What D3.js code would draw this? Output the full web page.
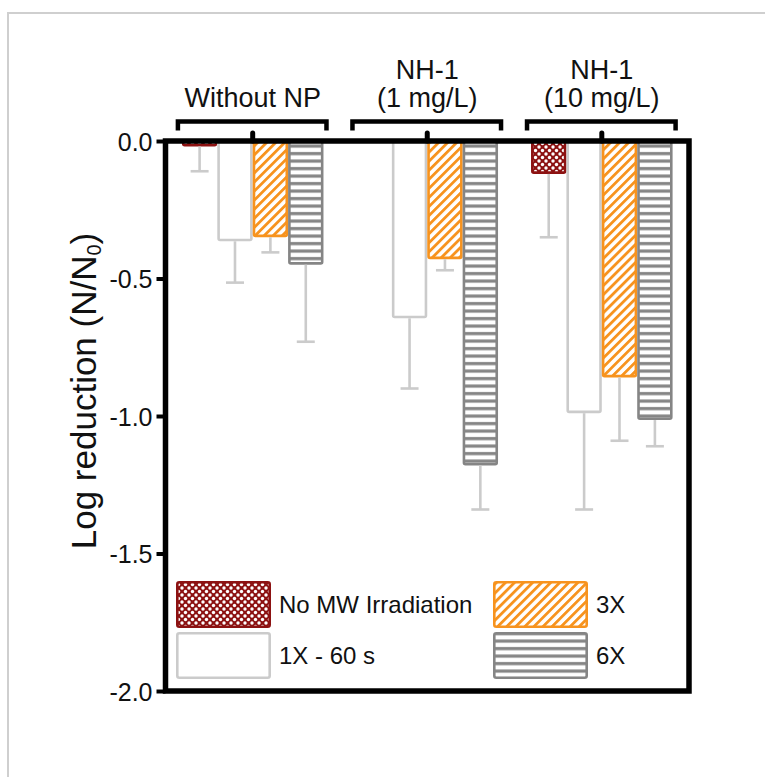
<!DOCTYPE html>
<html>
<head>
<meta charset="utf-8">
<script src="https://cdn.jsdelivr.net/npm/d3@7"></script>
<style>
    body { margin: 0; background: #fff; }
    svg { display: block; font-family: "Liberation Sans", Arial, Helvetica, sans-serif; }
</style>
</head>
<body>
<svg id="bar-chart"></svg>
<script>
/*--------------------------------------------------------------------------------
----- GROUPED BAR CHART (log reduction per nanoparticle condition)
--------------------------------------------------------------------------------*/

// Groups (top labels, one array per text line) and the series inside each group
const groups = ["without", "nh1_1", "nh1_10"];
const group_labels = [["Without NP"], ["NH-1", "(1 mg/L)"], ["NH-1", "(10 mg/L)"]];
const series = ["No MW Irradiation", "1X - 60 s", "3X", "6X"];

// Mean log reduction per group, in series order
const values_without = [-0.015, -0.36, -0.345, -0.445];
const values_nh1_1 = [0, -0.64, -0.425, -1.175];
const values_nh1_10 = [-0.115, -0.985, -0.855, -1.01];

// Error bar length (downward) per group, in series order
const errors_without = [0.095, 0.155, 0.06, 0.285];
const errors_nh1_1 = [0, 0.26, 0.045, 0.165];
const errors_nh1_10 = [0.235, 0.355, 0.235, 0.10];

// Y-axis ticks
const y_ticks = [0, -0.5, -1.0, -1.5, -2.0];

// Build a flat table out of the arrays above
const group_values = [values_without, values_nh1_1, values_nh1_10];
const group_errors = [errors_without, errors_nh1_1, errors_nh1_10];
const bar_data = [];
groups.forEach((g, gi) => {
    series.forEach((s, si) => {
        bar_data.push({ group: g, serie: s, value: group_values[gi][si], error: group_errors[gi][si] });
    });
});

// Dimensions of the page and the plot frame
const width = 765, height = 777;
const frame = { left: 165.5, right: 689, top: 141, bottom: 691 };

const svg = d3.select("#bar-chart")
    .attr("width", width)
    .attr("height", height);

// Light grey outer border (only top and left edges are visible)
svg.append("rect")
    .attr("x", 8).attr("y", 13)
    .attr("width", 900).attr("height", 900)
    .attr("fill", "none")
    .attr("stroke", "#cfcfcf")
    .attr("stroke-width", 2);

// Colors per series
const dark_red = "#8c1212", orange = "#f7931e", light_grey = "#cbcbcb", mid_grey = "#858585";

// Patterns for the bar fills
const defs = svg.append("defs");

const p_cross = defs.append("pattern")
    .attr("id", "pat-nomw")
    .attr("patternUnits", "userSpaceOnUse")
    .attr("width", 7).attr("height", 7);
p_cross.append("rect").attr("width", 7).attr("height", 7).attr("fill", dark_red);
[[0, 0], [7, 0], [0, 7], [7, 7], [3.5, 3.5]].forEach(p => {
    p_cross.append("circle").attr("cx", p[0]).attr("cy", p[1]).attr("r", 1.7).attr("fill", "#fff");
});

const p_diag = defs.append("pattern")
    .attr("id", "pat-3x")
    .attr("patternUnits", "userSpaceOnUse")
    .attr("width", 6.4).attr("height", 6.4)
    .attr("patternTransform", "rotate(45)");
p_diag.append("rect").attr("width", 6.4).attr("height", 6.4).attr("fill", "#fff");
p_diag.append("rect").attr("width", 2.8).attr("height", 6.4).attr("fill", orange);

const p_horiz = defs.append("pattern")
    .attr("id", "pat-6x")
    .attr("patternUnits", "userSpaceOnUse")
    .attr("width", 8).attr("height", 7.5);
p_horiz.append("rect").attr("width", 8).attr("height", 7.5).attr("fill", "#fff");
p_horiz.append("rect").attr("y", 2).attr("width", 8).attr("height", 3.2).attr("fill", mid_grey);

const fill_scale = d3.scaleOrdinal()
    .domain(series)
    .range(["url(#pat-nomw)", "#fff", "url(#pat-3x)", "url(#pat-6x)"]);
const stroke_scale = d3.scaleOrdinal()
    .domain(series)
    .range([dark_red, light_grey, orange, mid_grey]);

// Scales
const x0_scale = d3.scaleBand()
    .domain(groups)
    .range([frame.left, frame.right])
    .paddingInner(0.189)
    .paddingOuter(0.094);
const x1_scale = d3.scaleBand()
    .domain(series)
    .range([0, x0_scale.bandwidth()]);
const y_scale = d3.scaleLinear()
    .domain([-2, 0])
    .range([frame.bottom, frame.top]);

// Bars (a zero value draws nothing)
svg.append("g")
    .selectAll("rect")
    .data(bar_data.filter(d => d.value !== 0))
    .enter()
    .append("rect")
    .attr("x", d => x0_scale(d.group) + x1_scale(d.serie) + 1.3)
    .attr("y", y_scale(0))
    .attr("width", x1_scale.bandwidth() - 2.6)
    .attr("height", d => y_scale(d.value) - y_scale(0))
    .attr("rx", 1.5)
    .attr("fill", d => fill_scale(d.serie))
    .attr("stroke", d => stroke_scale(d.serie))
    .attr("stroke-width", 2.6);

// Error bars, drawn downward from the end of each bar
const err_g = svg.append("g")
    .attr("stroke", light_grey)
    .attr("stroke-width", 2.6);
const err_data = bar_data.filter(d => d.error > 0);
const bar_mid = d => x0_scale(d.group) + x1_scale(d.serie) + x1_scale.bandwidth() / 2;
err_g.selectAll("line.stem")
    .data(err_data)
    .enter()
    .append("line")
    .attr("class", "stem")
    .attr("x1", bar_mid).attr("x2", bar_mid)
    .attr("y1", d => y_scale(d.value) + 1.3)
    .attr("y2", d => y_scale(d.value - d.error));
err_g.selectAll("line.cap")
    .data(err_data)
    .enter()
    .append("line")
    .attr("class", "cap")
    .attr("x1", d => bar_mid(d) - 9).attr("x2", d => bar_mid(d) + 9)
    .attr("y1", d => y_scale(d.value - d.error))
    .attr("y2", d => y_scale(d.value - d.error));

// Y-axis with hyphen minus labels
const y_axis = svg.append("g")
    .attr("transform", `translate(${frame.left},0)`)
    .call(d3.axisLeft(y_scale).tickValues(y_ticks).tickSize(9).tickPadding(4).tickFormat(d => d.toFixed(1)));
y_axis.select(".domain").remove();
y_axis.selectAll(".tick line").attr("stroke", "#000").attr("stroke-width", 4);
y_axis.selectAll(".tick text")
    .attr("fill", "#111")
    .attr("font-size", 25)
    .attr("font-family", "Liberation Sans, Arial, sans-serif")
    .attr("dy", "0.36em");

// Top axis: one upward tick per group
const x_axis = svg.append("g")
    .attr("transform", `translate(0,${frame.top})`)
    .call(d3.axisTop(x0_scale).tickSize(8).tickFormat(""));
x_axis.select(".domain").remove();
x_axis.selectAll(".tick line")
    .attr("stroke", "#000")
    .attr("stroke-width", 5)
    .attr("stroke-linecap", "round");

// Plot frame
svg.append("rect")
    .attr("x", frame.left).attr("y", frame.top)
    .attr("width", frame.right - frame.left)
    .attr("height", frame.bottom - frame.top)
    .attr("fill", "none")
    .attr("stroke", "#000")
    .attr("stroke-width", 5.5);

// Group brackets and labels above the plot
const bracket_y = 121.5, bracket_drop = 9;
groups.forEach((g, gi) => {
    const xa = x0_scale(g) - 4, xb = x0_scale(g) + x0_scale.bandwidth() + 3;
    svg.append("path")
        .attr("d", `M${xa},${bracket_y + bracket_drop}V${bracket_y}H${xb}V${bracket_y + bracket_drop}`)
        .attr("fill", "none")
        .attr("stroke", "#000")
        .attr("stroke-width", 4.5);

    const lines = group_labels[gi];
    const cx = x0_scale(g) + x0_scale.bandwidth() / 2;
    lines.forEach((txt, li) => {
        svg.append("text")
            .attr("x", cx)
            .attr("y", 107 - (lines.length - 1 - li) * 28)
            .attr("text-anchor", "middle")
            .attr("font-size", 27)
            .attr("fill", "#111")
            .text(txt);
    });
});

// Y-axis title with subscript
const y_title = svg.append("text")
    .attr("transform", "translate(96,391) rotate(-90)")
    .attr("text-anchor", "middle")
    .attr("font-size", 35)
    .attr("fill", "#111");
y_title.append("tspan").text("Log reduction (N/N");
y_title.append("tspan").attr("font-size", 20).attr("baseline-shift", "-25%").text("0");
y_title.append("tspan").text(")");

// Legend inside the plot, two columns by two rows
const legend_cols = [176, 493], legend_rows = [581, 632];
const legend_box = { w: 95, h: 47 };
series.forEach((s, i) => {
    const lx = legend_cols[Math.floor(i / 2)], ly = legend_rows[i % 2];
    svg.append("rect")
        .attr("x", lx + 1.3).attr("y", ly + 1.3)
        .attr("width", legend_box.w - 2.6).attr("height", legend_box.h - 2.6)
        .attr("rx", 2)
        .attr("fill", fill_scale(s))
        .attr("stroke", stroke_scale(s))
        .attr("stroke-width", 2.6);
    svg.append("text")
        .attr("x", lx + legend_box.w + 8)
        .attr("y", ly + legend_box.h / 2)
        .attr("dy", "0.36em")
        .attr("font-size", 24)
        .attr("fill", "#111")
        .text(s);
});
</script>
</body>
</html>
